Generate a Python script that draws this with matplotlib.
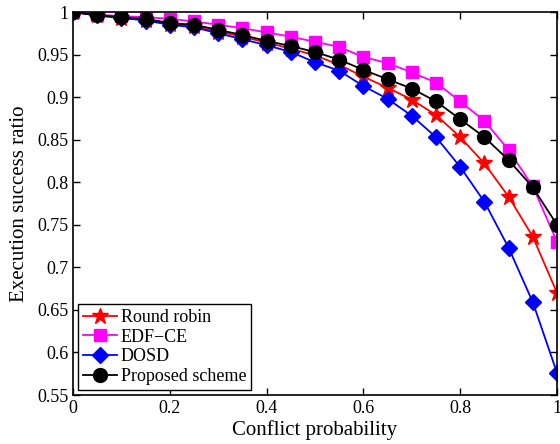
import numpy as np
import matplotlib
matplotlib.use('Agg')
import matplotlib.pyplot as plt

plt.rcParams['font.family'] = ['Liberation Serif', 'DejaVu Serif']
plt.rcParams['mathtext.fontset'] = 'stix'

# conflict probability
x = np.arange(21) * 0.05

round_robin = [1.0, 0.996, 0.993, 0.991, 0.986, 0.983, 0.977, 0.971, 0.964, 0.957, 0.949,
               0.938, 0.924, 0.911, 0.897, 0.879, 0.853, 0.822, 0.783, 0.736, 0.670]
edf_ce = [1.0, 0.997, 0.995, 0.994, 0.992, 0.989, 0.985, 0.981, 0.976, 0.971, 0.965,
          0.959, 0.947, 0.940, 0.929, 0.917, 0.895, 0.872, 0.838, 0.795, 0.730]
dosd = [1.0, 0.996, 0.993, 0.990, 0.985, 0.982, 0.975, 0.968, 0.961, 0.953, 0.941,
        0.931, 0.913, 0.898, 0.878, 0.853, 0.818, 0.777, 0.723, 0.659, 0.576]
proposed = [1.0, 0.996, 0.994, 0.992, 0.987, 0.985, 0.979, 0.973, 0.966, 0.960, 0.953,
            0.944, 0.932, 0.921, 0.910, 0.895, 0.874, 0.853, 0.826, 0.794, 0.750]

fig = plt.figure(figsize=(5.6, 4.44), dpi=100)
ax = fig.add_axes([73/560, 1-395/444, (557-73)/560, (395-12)/444])

ax.plot(x, round_robin, '-*', color='red', lw=1.3, ms=12, label='Round robin')
ax.plot(x, edf_ce, '-s', color='magenta', lw=1.3, ms=8.5, label='EDF\u2212CE')
ax.plot(x, dosd, '-D', color='blue', lw=1.3, ms=8, label='DOSD')
ax.plot(x, proposed, '-o', color='black', lw=1.3, ms=10, label='Proposed scheme')

ax.set_xlim(0, 1)
ax.set_ylim(0.55, 1)
ax.set_xticks([0, 0.2, 0.4, 0.6, 0.8, 1])
ax.set_xticklabels(['0', '0.2', '0.4', '0.6', '0.8', '1'])
ax.set_yticks(np.arange(0.55, 1.001, 0.05))
ax.set_yticklabels(['0.55', '0.6', '0.65', '0.7', '0.75', '0.8', '0.85', '0.9', '0.95', '1'])
ax.tick_params(direction='in', top=True, right=True, labelsize=13, length=5, width=1)
for s in ax.spines.values():
    s.set_linewidth(1.2)

ax.set_xlabel('Conflict probability', fontsize=15, labelpad=2)
ax.set_ylabel('Execution success ratio', fontsize=15, labelpad=6)

leg = ax.legend(loc='lower left', fontsize=13, fancybox=False, edgecolor='black',
                framealpha=1, handlelength=1.9, handletextpad=0.2, borderpad=0.25,
                labelspacing=0.15, borderaxespad=0.3)
leg.get_frame().set_linewidth(1.0)

fig.savefig('out.png', dpi=100)
